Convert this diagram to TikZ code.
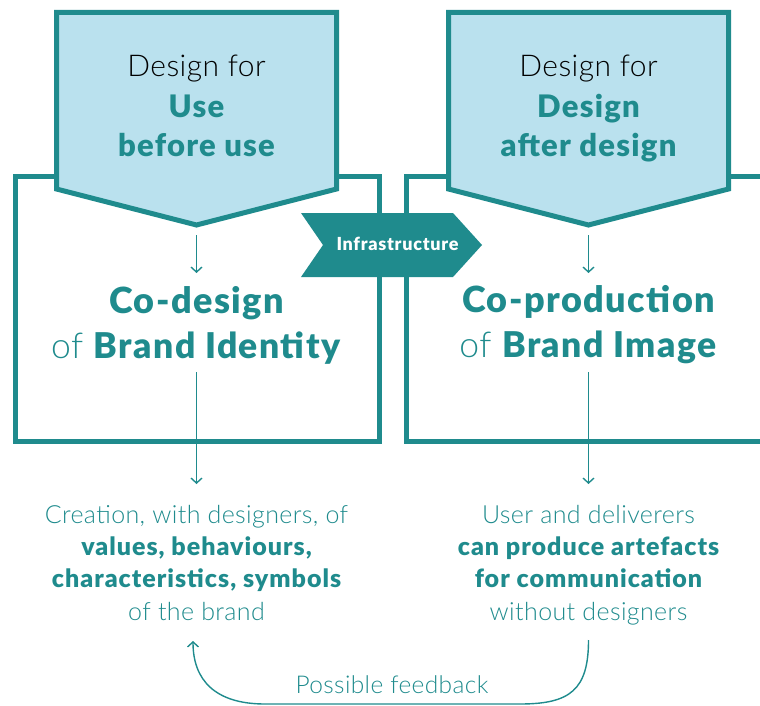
\documentclass[tikz,border=0pt]{standalone}
\usepackage{fontspec}
\setmainfont{Lato}[UprightFont={Lato Light}, BoldFont={Lato Black}, UprightFeatures={LetterSpace=1.5}, BoldFeatures={LetterSpace=4}]
\usetikzlibrary{arrows.meta}
\definecolor{brandteal}{RGB}{31,139,141}
\definecolor{lightfill}{RGB}{186,225,238}
\tikzset{
  boxline/.style={draw=brandteal, line width=5pt, line join=miter},
  pent/.style={draw=brandteal, fill=lightfill, line width=5pt, line join=miter},
  infra/.style={fill=brandteal, draw=none},
  thin/.style={draw=brandteal, line width=1.4pt, -{Straight Barb[length=5pt,width=11pt,line width=1.4pt]}},
  toptext/.style={anchor=base, inner sep=0pt, font=\fontsize{30}{34}\selectfont, text=black},
  topbold/.style={anchor=base, inner sep=0pt, font=\fontsize{31}{34}\selectfont\bfseries, text=brandteal},
  midtext/.style={anchor=base, inner sep=0pt, font=\fontsize{35.5}{40}\selectfont, text=brandteal},
  midbold/.style={anchor=base, inner sep=0pt, font=\fontsize{36}{40}\selectfont\bfseries, text=brandteal},
  lowtext/.style={anchor=base, inner sep=0pt, font=\fontsize{25}{28}\selectfont, text=brandteal},
  lowbold/.style={anchor=base, inner sep=0pt, font=\fontsize{25}{28}\selectfont\bfseries, text=brandteal},
}
\begin{document}
\begin{tikzpicture}[x=1pt,y=-1pt]
\useasboundingbox (0,0) rectangle (760,706);
\clip (0,0) rectangle (760,706);
% boxes
\draw[boxline] (15,176.5) rectangle (379.5,441);
\draw[boxline] (406.5,176.5) rectangle (790,441);
% pentagons
\filldraw[pent] (56.5,12.5) -- (336.5,12.5) -- (336.5,189) -- (196.5,225) -- (56.5,189) -- cycle;
\filldraw[pent] (448.5,12.5) -- (728.5,12.5) -- (728.5,189) -- (588.5,225) -- (448.5,189) -- cycle;
% infrastructure arrow
\fill[infra] (301,213) -- (453,213) -- (482,245) -- (453,277) -- (301,277) -- (323,245) -- cycle;
\node[anchor=base, inner sep=0pt, text=white, font=\fontsize{18}{20}\selectfont\bfseries] (infra) at (397.5,250) {Infrastructure};
% top texts
\node[toptext] (l1) at (196.5,77) {Design for};
\node[topbold] (l2) at (196.5,118) {Use};
\node[topbold] (l3) at (196.5,157) {before use};
\node[toptext] (r1) at (588.5,77) {Design for};
\node[topbold] (r2) at (588.5,118) {Design};
\node[topbold] (r3) at (588.5,157) {after design};
% middle texts
\node[midbold] (lco) at (196.5,313) {Co-design};
\node[midtext] (lbrand) at (196.5,358) {of \textbf{Brand Identity}};
\node[midbold] (rco) at (588.5,312) {Co-production};
\node[midtext] (rbrand) at (588.5,357) {of \textbf{Brand Image}};
% lower texts
\node[lowtext] (la) at (196.5,523) {Creation, with designers, of};
\node[lowbold] (lb) at (196.5,555) {values, behaviours,};
\node[lowbold] (lc) at (196.5,587) {characteristics, symbols};
\node[lowtext] (ld) at (196.5,620) {of the brand};
\node[lowtext] (ra) at (588.5,523) {User and deliverers};
\node[lowbold] (rb) at (588.5,555) {can produce artefacts};
\node[lowbold] (rc) at (588.5,587) {for communication};
\node[lowtext] (rd) at (588.5,620) {without designers};
\node[lowtext, font=\fontsize{24.5}{26}\selectfont] (fb) at (392,693) {Possible feedback};
% connector coordinates
\coordinate (lptip) at (196.5,235);
\coordinate (lcotop) at (196.5,273);
\coordinate (rptip) at (588.5,235);
\coordinate (rcotop) at (588.5,273);
\coordinate (lbbot) at (196.5,372);
\coordinate (latop) at (196.5,484);
\coordinate (rbbot) at (588.5,372);
\coordinate (ratop) at (588.5,484);
\coordinate (rdbot) at (588.5,640);
\coordinate (ldbot) at (193,641);
% connectors
\draw[thin] (lptip) -- (lcotop);
\draw[thin] (rptip) -- (rcotop);
\draw[thin] (lbbot) -- (latop);
\draw[thin] (rbbot) -- (ratop);
\draw[thin] (rdbot) .. controls (588.5,690) and (570,704) .. (520,704) -- (265,704) .. controls (215,704) and (193,680) .. (ldbot);
\end{tikzpicture}
\end{document}
